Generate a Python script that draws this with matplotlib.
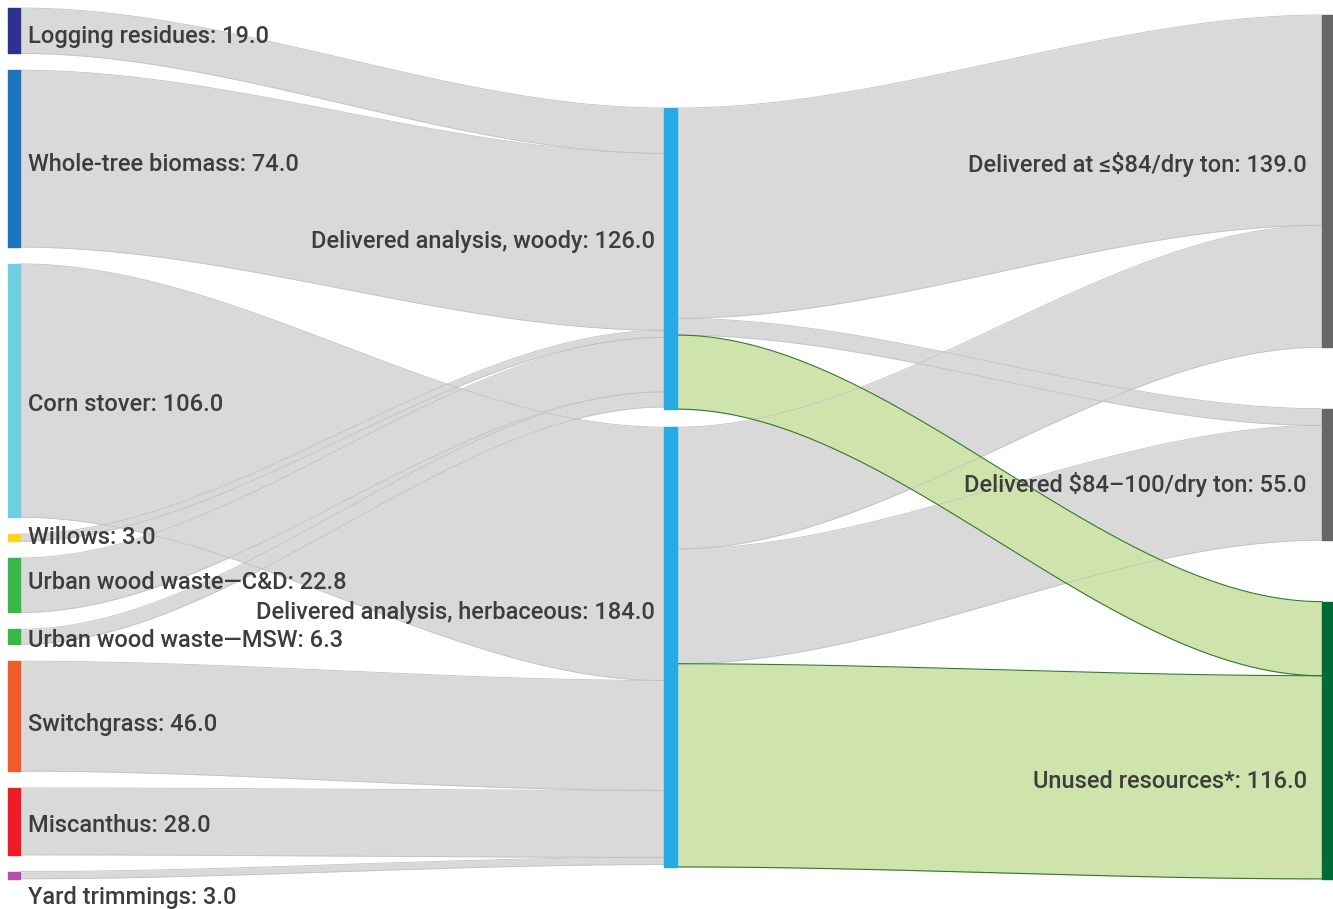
import numpy as np
import matplotlib.pyplot as plt

plt.rcParams["font.family"] = ["Roboto", "DejaVu Sans"]

# left column: feedstocks (values in million dry tons)
SOURCES = [
    "Logging residues",
    "Whole-tree biomass",
    "Corn stover",
    "Willows",
    "Urban wood waste\u2014C&D",
    "Urban wood waste\u2014MSW",
    "Switchgrass",
    "Miscanthus",
    "Yard trimmings",
]
SOURCE_VALUES = [19.0, 74.0, 106.0, 3.0, 22.8, 6.3, 46.0, 28.0, 3.0]
SOURCE_TARGET = [0, 0, 1, 0, 0, 0, 1, 1, 1]  # 0 = woody, 1 = herbaceous

# middle column
MIDDLE = ["Delivered analysis, woody", "Delivered analysis, herbaceous"]
MIDDLE_VALUES = [126.0, 184.0]

# right column
OUTCOMES = [
    "Delivered at \u2264$84/dry ton",
    "Delivered $84\u2013100/dry ton",
    "Unused resources*",
]
OUTCOME_VALUES = [139.0, 55.0, 116.0]

# middle -> right splits
WOODY_SPLIT = [88.0, 7.0, 31.0]
HERB_SPLIT = [51.0, 48.0, 85.0]

# colours
SOURCE_COLORS = ["#2e3192", "#1c75bc", "#6dcfe0", "#ffd51c", "#39b54a",
                 "#39b54a", "#f15a29", "#ed1c24", "#b84ea8"]
MIDDLE_COLOR = "#27aae1"
OUTCOME_COLORS = ["#666666", "#666666", "#006b36"]
LINK_GRAY = "#d9d9d9"
LINK_GREEN = "#cfe3ad"
TEXT_COLOR = "#3d3d3d"

# layout (pixels)
SCALE = 2.39
COL_X = [8, 664, 1322]
NODE_W = [12, 13, 11]
COL_TOP = [8, 108, 15]
COL_GAP = [16.8, 18, 61.5]
SRC_LABEL_DY = [6, 6, 14, 0, -3, 4, 8, 4, 22]
MID_LABEL_DY = [-17, -35]
OUT_LABEL_DY = [-17, 10, 41]
FONT_SIZE = 17


def stack(values, top, gap):
    tops = []
    y = top
    for v in values:
        tops.append(y)
        y += v * SCALE + gap
    return tops


def draw_link(ax, x0, y0, x1, y1, value, face, edge, lw):
    h = value * SCALE
    x = np.linspace(x0, x1, 200)
    t = (x - x0) / (x1 - x0)
    s = 3 * t ** 2 - 2 * t ** 3
    top = y0 + (y1 - y0) * s
    bot = top + h
    ax.fill_between(x, top, bot, color=face, lw=0, zorder=1)
    ax.plot(x, top, color=edge, lw=lw, zorder=1.5)
    ax.plot(x, bot, color=edge, lw=lw, zorder=1.5)


fig = plt.figure(figsize=(13.33, 9.09), dpi=100)
ax = fig.add_axes([0, 0, 1, 1])
ax.set_xlim(0, 1333)
ax.set_ylim(909, 0)
ax.axis("off")

src_tops = stack(SOURCE_VALUES, COL_TOP[0], COL_GAP[0])
mid_tops = stack(MIDDLE_VALUES, COL_TOP[1], COL_GAP[1])
out_tops = stack(OUTCOME_VALUES, COL_TOP[2], COL_GAP[2])

# left -> middle links
mid_in = list(mid_tops)
for i, v in enumerate(SOURCE_VALUES):
    m = SOURCE_TARGET[i]
    draw_link(ax, COL_X[0] + NODE_W[0], src_tops[i], COL_X[1], mid_in[m], v,
              LINK_GRAY, "#c2c2c2", 0.6)
    mid_in[m] += v * SCALE

# middle -> right links (gray first, green on top)
out_in = list(out_tops)
mid_out = list(mid_tops)
green = []
for m, split in enumerate([WOODY_SPLIT, HERB_SPLIT]):
    for k, v in enumerate(split):
        args = (COL_X[1] + NODE_W[1], mid_out[m], COL_X[2], out_in[k], v)
        if k == 2:
            green.append(args)
        else:
            draw_link(ax, *args, LINK_GRAY, "#c2c2c2", 0.6)
        mid_out[m] += v * SCALE
        out_in[k] += v * SCALE
for args in green:
    draw_link(ax, *args, LINK_GREEN, "#2f7a2f", 0.8)

# nodes and labels
text_kw = dict(va="center", fontsize=FONT_SIZE, fontweight="medium",
               color=TEXT_COLOR, zorder=4)

for i, v in enumerate(SOURCE_VALUES):
    h = v * SCALE
    ax.add_patch(plt.Rectangle((COL_X[0], src_tops[i]), NODE_W[0], h,
                               color=SOURCE_COLORS[i], zorder=3))
    ax.text(COL_X[0] + NODE_W[0] + 8, src_tops[i] + h / 2 + SRC_LABEL_DY[i],
            f"{SOURCES[i]}: {v:.1f}", ha="left", **text_kw)

for i, v in enumerate(MIDDLE_VALUES):
    h = v * SCALE
    ax.add_patch(plt.Rectangle((COL_X[1], mid_tops[i]), NODE_W[1], h,
                               color=MIDDLE_COLOR, zorder=3))
    ax.text(COL_X[1] - 9, mid_tops[i] + h / 2 + MID_LABEL_DY[i],
            f"{MIDDLE[i]}: {v:.1f}", ha="right", **text_kw)

for i, v in enumerate(OUTCOME_VALUES):
    h = v * SCALE
    ax.add_patch(plt.Rectangle((COL_X[2], out_tops[i]), NODE_W[2], h,
                               color=OUTCOME_COLORS[i], zorder=3))
    ax.text(COL_X[2] - 15, out_tops[i] + h / 2 + OUT_LABEL_DY[i],
            f"{OUTCOMES[i]}: {v:.1f}", ha="right", **text_kw)

fig.savefig("out.png", dpi=100)
